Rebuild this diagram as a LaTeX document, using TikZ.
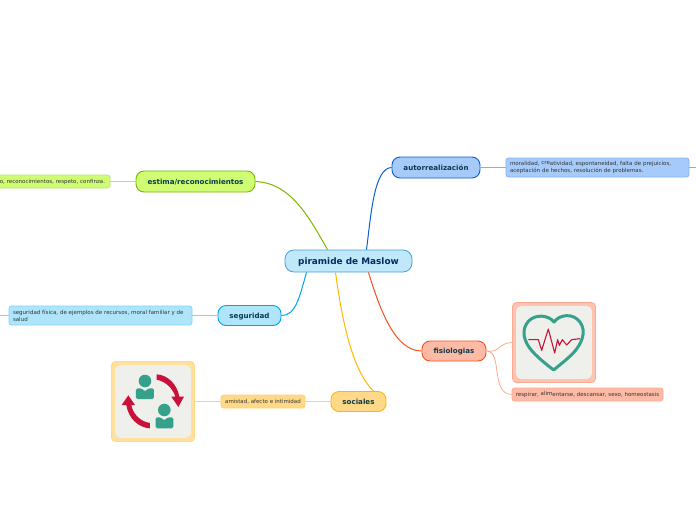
\documentclass[tikz,border=0pt]{standalone}
\usepackage{fontspec}
\setmainfont{DejaVu Sans}
\definecolor{cblueL}{HTML}{BFE8FB}\definecolor{cblueD}{HTML}{4A9FD0}
\definecolor{aF}{HTML}{A6CBFA}\definecolor{aD}{HTML}{0A5FD0}\definecolor{aL}{HTML}{7FB2F5}
\definecolor{eF}{HTML}{CFFC73}\definecolor{eD}{HTML}{7AB800}\definecolor{eL}{HTML}{B5E86A}
\definecolor{sF}{HTML}{AEE5FB}\definecolor{sD}{HTML}{00A5E8}\definecolor{sL}{HTML}{7FD3F7}
\definecolor{oF}{HTML}{FFD987}\definecolor{oD}{HTML}{FFB700}\definecolor{oL}{HTML}{FFD26E}
\definecolor{fF}{HTML}{FDC4B2}\definecolor{fB}{HTML}{FDBBA6}\definecolor{fD}{HTML}{F5501E}\definecolor{fL}{HTML}{FCA98F}
\definecolor{oB}{HTML}{FFE09C}
\definecolor{inkT}{HTML}{0B3A4A}\definecolor{inkC}{HTML}{0A2A5A}\definecolor{inkL}{HTML}{333333}
\definecolor{teal}{HTML}{36A18B}\definecolor{crim}{HTML}{C8123A}\definecolor{panel}{HTML}{EFEFEC}
\tikzset{
 branch/.style={draw=#1,line width=.9pt,rounded corners=8pt,font=\bfseries\fontsize{7.1}{8}\selectfont,text=inkT,inner sep=0pt,text depth=0pt},
 leaf/.style={draw=#1,line width=.7pt,rounded corners=2.5pt,font=\fontsize{5.5}{7.2}\selectfont,text=inkL,inner sep=0pt,align=left},
 imgbox/.style={draw=#1,line width=.8pt,rounded corners=4pt,inner sep=0pt},
 wire/.style={line width=1pt,draw=#1},
 leafwire/.style={line width=.8pt,draw=#1},
 panelbox/.style={fill=panel,rounded corners=5pt}
}
\begin{document}
\begin{tikzpicture}[x=1pt,y=-1pt]
\useasboundingbox (0,0) rectangle (696,520);
% nodes
\node[draw=cblueD,fill=cblueL,line width=.8pt,rounded corners=9pt,minimum width=127pt,minimum height=22pt,inner sep=0pt,text depth=0pt,font=\bfseries\fontsize{8.9}{10}\selectfont,text=inkC] (c) at (348.5,261) {piramide de Maslow};
\node[branch=aD,fill=aF,minimum width=88pt,minimum height=21pt] (a) at (436,167.5) {autorrealización};
\node[branch=eD,fill=eF,minimum width=119pt,minimum height=21pt] (e) at (195.5,181.5) {estima/reconocimientos};
\node[branch=sD,fill=sF,minimum width=63pt,minimum height=20pt] (s) at (249.5,315.5) {seguridad};
\node[branch=oD,fill=oF,minimum width=55pt,minimum height=20pt] (o) at (358.5,401.5) {sociales};
\node[branch=fD,fill=fB,minimum width=64pt,minimum height=20pt] (f) at (454,351) {fisiologias};
\node[leaf=aL,fill=aF,minimum width=183pt,minimum height=19pt,text width=175pt] (al) at (597.5,167.5) {moralidad, \raisebox{.6pt}{cre}atividad, espontaneidad, falta de prejuicios,\\aceptación de hechos, resolución de problemas.};
\node[leaf=eL,fill=eF,minimum width=120pt,minimum height=13pt,align=right,text width=110pt] (el) at (50,181.5) {o, reconocimientos, respeto, confinza.};
\node[leaf=sL,fill=sF,minimum width=183pt,minimum height=19pt,text width=175pt] (sl) at (100.5,315.5) {seguridad física, de ejemplos de recursos, moral familiar y de\\salud};
\node[leaf=oL,fill=oF,minimum width=84pt,minimum height=13pt,align=center] (ol) at (263,401.5) {amistad, afecto e intimidad};
\node[leaf=fL,fill=fB,minimum width=151pt,minimum height=13pt,align=center] (fl) at (587.5,394.5) {respirar, \raisebox{.6pt}{alim}entarse, descansar, sexo, homeostasis};
\node[imgbox=fL,fill=fF,minimum width=83pt,minimum height=80pt] (fi) at (554,342.5) {};
\node[imgbox=oF,fill=oB,minimum width=83pt,minimum height=80pt] (oi) at (153,401.5) {};
\fill[panelbox] ([shift={(4pt,4pt)}]fi.south west) rectangle ([shift={(-4pt,-4pt)}]fi.north east);
\fill[panelbox] ([shift={(4pt,4pt)}]oi.south west) rectangle ([shift={(-4pt,-4pt)}]oi.north east);
% main connectors
\draw[wire=aD] ([xshift=18pt]c.north) .. controls (371,215) and (374,168) .. (a.west);
\draw[wire=eD] ([xshift=-21pt]c.north) .. controls (308,215) and (290,183) .. (e.east);
\draw[wire=sD] ([xshift=-42pt]c.south) .. controls (300,295) and (296,316) .. (s.east);
\draw[wire=oD] ([xshift=-13pt]c.south) .. controls (342,320) and (352,370) .. ([xshift=15pt]o.north);
\draw[wire=fD] ([xshift=20pt]c.south) .. controls (380,310) and (395,351) .. (f.west);
% leaf connectors
\coordinate (aEnd) at (696,167.5);
\draw[leafwire=aL] (a.east) -- (al.west);
\draw[leafwire=aL] (al.east) -- (aEnd);
\draw[leafwire=eL] (e.west) -- (el.east);
\draw[leafwire=sL] (s.west) -- (sl.east);
\coordinate (sEnd) at (0,315.5);
\draw[leafwire=sL] (sl.west) -- (sEnd);
\draw[leafwire=oL] (o.west) -- (ol.east);
\draw[leafwire=oL] (ol.west) -- (oi.east);
\draw[leafwire=fL] (f.east) .. controls (500,353) and (498,343) .. (fi.west);
\draw[leafwire=fL] (f.east) .. controls (503,351) and (490,394) .. (fl.west);
% heart
\begin{scope}[shift={(505,298)},x=.3333pt,y=-.3333pt]
\draw[teal,line width=3pt,line join=round] (147,72) .. controls (165,48) and (205,45) .. (225,72) .. controls (245,100) and (232,135) .. (205,165) .. controls (185,185) and (165,200) .. (146,216) .. controls (125,200) and (100,180) .. (82,160) .. controls (55,130) and (48,95) .. (70,70) .. controls (90,48) and (130,50) .. (147,72) -- cycle;
\draw[crim,line width=1.1pt,line join=round] (70,125) -- (100,125) -- (110,157) -- (130,93) -- (149,165) -- (158,125) -- (163,142) -- (172,125) -- (185,141) -- (200,125) -- (225,122);
\end{scope}
% people
\begin{scope}[shift={(100,355)},x=.3333pt,y=-.3333pt]
\fill[teal] (135,78) circle (6.3pt);
\fill[teal,rounded corners=1.5pt] (108,100) -- (125,100) -- (135,110) -- (145,100) -- (162,100) -- (162,132) -- (108,132) -- cycle;
\fill[teal] (193,165) circle (6.3pt);
\fill[teal,rounded corners=1.5pt] (167,187) -- (183,187) -- (193,197) -- (203,187) -- (220,187) -- (220,220) -- (167,220) -- cycle;
\fill[crim] (170,58) .. controls (205,60) and (232,90) .. (238,125) -- (252,125) -- (235,156) -- (214,125) -- (226,125) .. controls (218,100) and (198,80) .. (170,74) -- cycle;
\fill[crim] (150,220) .. controls (115,218) and (85,190) .. (79,150) -- (65,150) -- (85,121) -- (105,150) -- (94,150) .. controls (98,175) and (120,200) .. (150,204) -- cycle;
\end{scope}
\end{tikzpicture}
\end{document}
